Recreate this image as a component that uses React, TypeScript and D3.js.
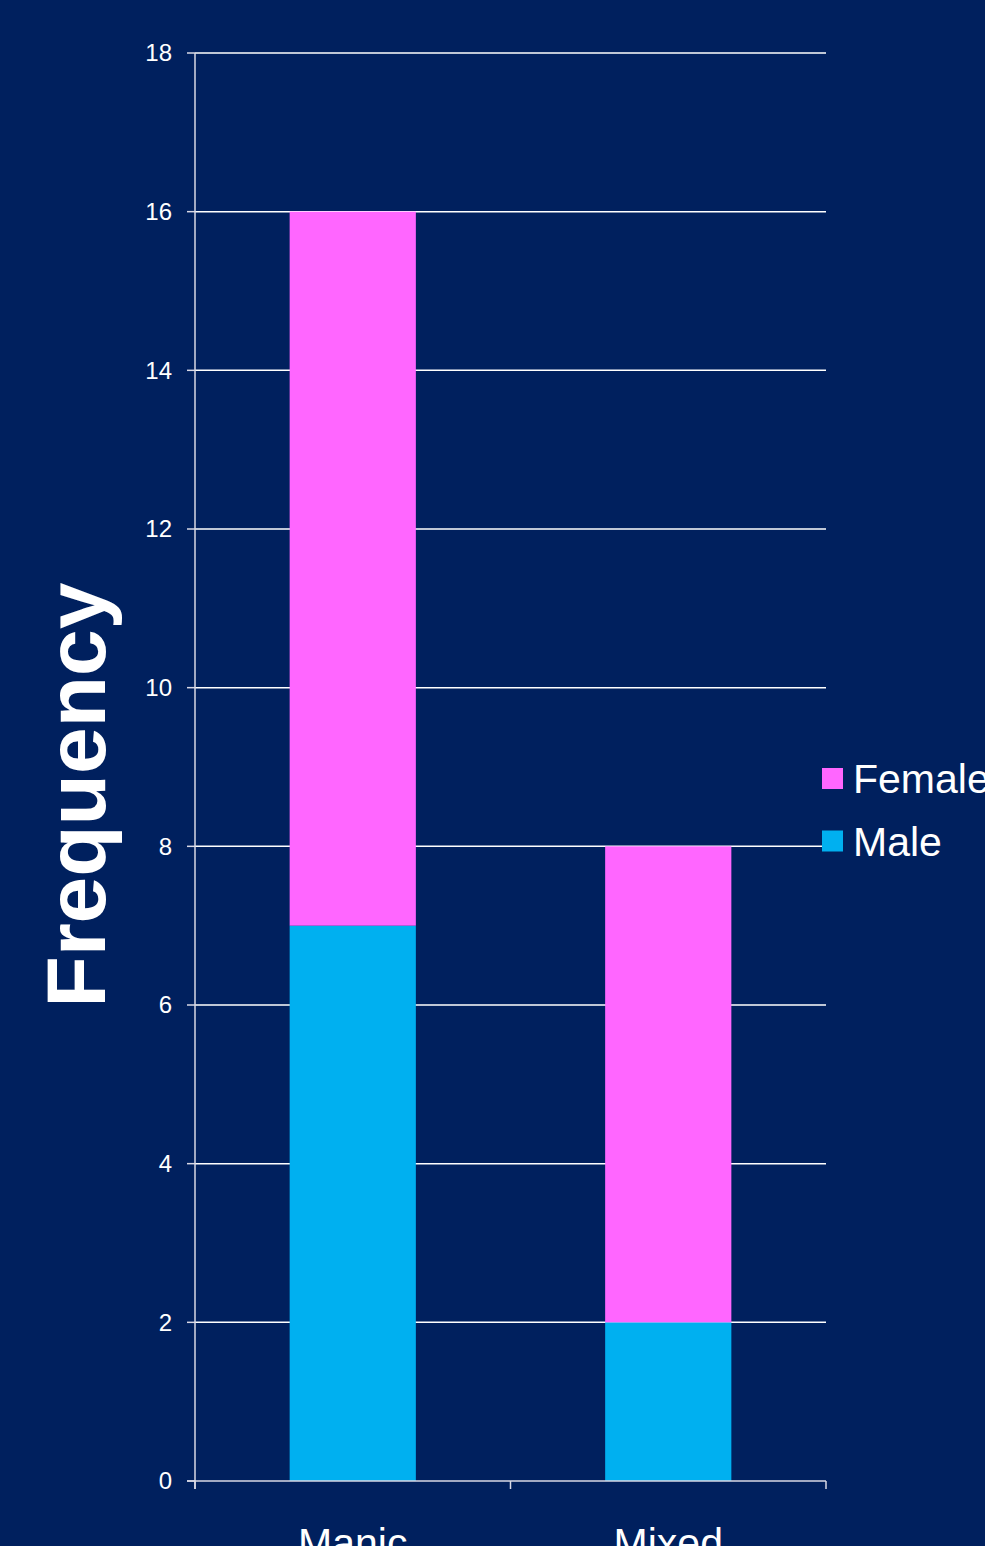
import React from "react";
import * as d3 from "d3";

const categories = ["Manic", "Mixed"];
const seriesNames = ["Male", "Female"];
const maleValues = [7, 2];
const femaleValues = [9, 6];
const yTicks = [0, 2, 4, 6, 8, 10, 12, 14, 16, 18];
const colors: Record<string, string> = { Male: "#00B0F0", Female: "#FF66FF" };

const W = 985;
const H = 1546;
const left = 195;
const right = 826;
const top = 53;
const bottom = 1481;

export default function App() {
  const x = d3.scaleBand<string>().domain(categories).range([left, right]).paddingInner(0.6).paddingOuter(0.3);
  const xOuter = d3.scaleBand<string>().domain(categories).range([left, right]);
  const y = d3.scaleLinear().domain([0, 18]).range([bottom, top]);
  const rows = categories.map((c, i) => ({ cat: c, Male: maleValues[i], Female: femaleValues[i] }));
  const stacked = d3.stack<any>().keys(seriesNames)(rows);
  const font = "'Liberation Sans', Arial, sans-serif";
  const axisColor = "#D9D9E6";
  const boundaries = [left, ...categories.map((c) => (xOuter(c) as number) + xOuter.bandwidth())];

  return (
    <svg width={W} height={H} style={{ position: "absolute", left: 0, top: 0, display: "block" }} fontFamily={font}>
      <rect x={0} y={0} width={W} height={H} fill="#00205E" />
      {yTicks.filter((t) => t > 0).map((t) => (
        <line key={"g" + t} x1={left} x2={right} y1={y(t)} y2={y(t)} stroke="#FFFFFF" strokeWidth={1.5} />
      ))}
      {stacked.map((s) => (
        <g key={s.key} fill={colors[s.key]}>
          {s.map((d, i) => (
            <rect key={i} x={x(categories[i])} width={x.bandwidth()} y={y(d[1])} height={y(d[0]) - y(d[1])} />
          ))}
        </g>
      ))}
      <line x1={left} x2={left} y1={top} y2={bottom + 8} stroke={axisColor} strokeWidth={1.5} />
      <line x1={left - 8} x2={right} y1={bottom} y2={bottom} stroke={axisColor} strokeWidth={1.5} />
      {yTicks.map((t) => (
        <g key={"t" + t}>
          <line x1={left - 8} x2={left} y1={y(t)} y2={y(t)} stroke={axisColor} strokeWidth={1.5} />
          <text x={172} y={y(t)} dy="0.35em" textAnchor="end" fill="#FFFFFF" fontSize={24}>{t}</text>
        </g>
      ))}
      {boundaries.map((b, i) => (
        <line key={"b" + i} x1={b} x2={b} y1={bottom} y2={bottom + 8} stroke={axisColor} strokeWidth={1.5} />
      ))}
      {categories.map((c) => (
        <text key={c} x={(xOuter(c) as number) + xOuter.bandwidth() / 2} y={1557} textAnchor="middle" fill="#FFFFFF" fontSize={41}>{c}</text>
      ))}
      <text transform={`translate(${105},${795}) rotate(-90)`} textAnchor="middle" fill="#FFFFFF" fontSize={84} fontWeight="bold">Frequency</text>
      {["Female", "Male"].map((k, i) => (
        <g key={k}>
          <rect x={822} y={768 + i * 62.5} width={21} height={21} fill={colors[k]} />
          <text x={853} y={793 + i * 62.5} fill="#FFFFFF" fontSize={41}>{k}</text>
        </g>
      ))}
    </svg>
  );
}
